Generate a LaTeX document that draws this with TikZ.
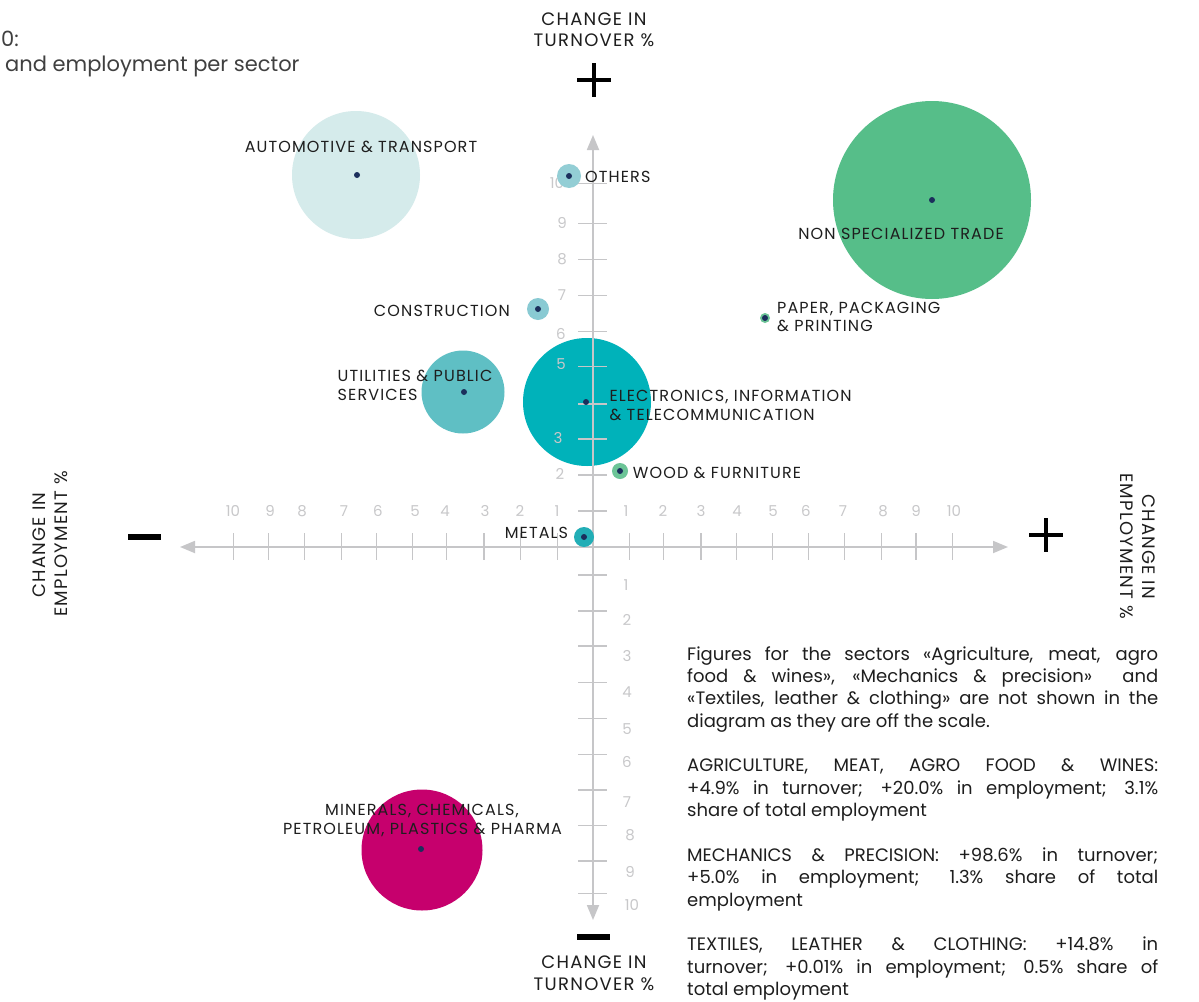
\documentclass[tikz,border=0pt]{standalone}
\usepackage{fontspec}
\setmainfont{Poppins}
\newfontfamily\lblfont[LetterSpace=7]{Poppins}
\usetikzlibrary{arrows.meta}
\definecolor{txt}{HTML}{1E1E1E}
\definecolor{axc}{HTML}{C6C6C8}
\definecolor{tickc}{HTML}{C8C8CA}
\definecolor{dotc}{HTML}{1B2F5C}
\definecolor{cauto}{HTML}{D5EBEB}
\definecolor{cothers}{HTML}{93CED5}
\definecolor{ccons}{HTML}{89CAD3}
\definecolor{cutil}{HTML}{5FBFC4}
\definecolor{celec}{HTML}{00B2BA}
\definecolor{cmetal}{HTML}{22AEB6}
\definecolor{ctrade}{HTML}{56BE89}
\definecolor{cgreen}{HTML}{6CC497}
\definecolor{cmin}{HTML}{C6006D}
\newcommand{\jl}[1]{\makebox[471pt][s]{#1}}
\begin{document}
\begin{tikzpicture}[x=1pt,y=-1pt,
  lbl/.style={font=\lblfont\fontsize{16}{19}\selectfont, text=txt, inner sep=0pt},
  axt/.style={font=\lblfont\fontsize{18}{21}\selectfont, text=txt, inner sep=0pt},
  tk/.style={font=\fontsize{15}{18}\selectfont, text=tickc, inner sep=0pt},
  para/.style={font=\fontsize{18}{22.4}\selectfont, text=txt, inner sep=0pt, anchor=base west},
  bubble/.style={circle, inner sep=0pt, minimum size=#1},
  dotn/.style={circle, fill=dotc, inner sep=0pt, minimum size=6pt},
  axis/.style={draw=axc, line width=1.8pt},
  tick/.style={draw=axc, line width=1.5pt},
  sign/.style={draw=black, line width=4.5pt}]
\useasboundingbox[fill=white] (0,0) rectangle (1199,1001);

% title fragments
\node[font=\fontsize{21}{25}\selectfont, text=txt!85, inner sep=0pt, anchor=base west] (t1) at (1,46.7) {0:};
\node[font=\fontsize{21}{25}\selectfont, text=txt!85, inner sep=0pt, anchor=base west] (t2) at (5,71.7) {and employment per sector};

% bubbles (under axes)
\node[bubble=128pt, fill=cauto] (auto) at (356,175) {};
\node[bubble=198pt, fill=ctrade] (trade) at (932,200) {};
\node[bubble=22pt, fill=ccons] (cons) at (538,309) {};
\node[bubble=10pt, fill=cgreen] (paper) at (765,318) {};
\node[bubble=83pt, fill=cutil] (util) at (463,392) {};
\node[bubble=128pt, fill=celec] (elec) at (587,402) {};
\node[bubble=121pt, fill=cmin] (min) at (422,850) {};

% axes
\coordinate (o) at (593,547);
\coordinate (xl) at (180,547);
\coordinate (xr) at (1008,547);
\coordinate (yt) at (593,135);
\coordinate (yb) at (593,920);
\draw[axis, -{Triangle[length=15pt,width=12pt]}] (o) -- (xl);
\draw[axis, -{Triangle[length=15pt,width=12pt]}] (o) -- (xr);
\draw[axis, -{Triangle[length=15pt,width=12pt]}] (o) -- (yt);
\draw[axis, -{Triangle[length=15pt,width=12pt]}] (o) -- (yb);
\foreach \x in {233.3,268.3,304.3,341.3,376.7,412.7,446.7,484,520.7,557.7,629.3,663.7,701,736.7,772.3,808.3,844.3,881.7,916,952.3}
  \draw[tick] (\x,533) -- (\x,560);
\foreach \y in {183.3,223.7,259.3,295.3,331.3,366.7,404,439,475,511,575,611,646,682.7,718.3,754.3,790,825.7,861,893.3}
  \draw[tick] (578,\y) -- (607,\y);

% tick labels
\foreach \x/\l [count=\i] in {233/10,270/9,302/8,344/7,378/6,415/5,445/4,485/3,520/2,557/1,626/1,663/2,701/3,737/4,773/5,806/6,843/7,883/8,916/9,954/10}
  \node[tk] (hx\i) at (\x,511) {\l};
\foreach \x/\y/\l [count=\i] in {557/183/10,562/223/9,562/259/8,562/295/7,561/334/6,561/364/5,558/438/3,560/474/2}
  \node[tk] (vu\i) at (\x,\y) {\l};
\foreach \x/\y/\l [count=\i] in {626/585/1,627/620/2,627/656/3,627/692/4,627/729/5,627/762/6,627/802/7,630/835/8,630/872/9,632/905/10}
  \node[tk] (vd\i) at (\x,\y) {\l};

% small bubbles over axes
\node[bubble=24pt, fill=cothers] (others) at (569,176) {};
\node[bubble=20pt, fill=cmetal] (metal) at (584,537) {};
\node[bubble=16pt, fill=cgreen] (wood) at (620,471) {};

% dots
\node[dotn] (dauto) at (357,175) {};
\node[dotn] (dothers) at (569,176) {};
\node[dotn] (dtrade) at (932,200) {};
\node[dotn] (dcons) at (538,309) {};
\node[dotn] (dpaper) at (765,318) {};
\node[dotn] (dutil) at (464,392) {};
\node[dotn] (delec) at (586,402) {};
\node[dotn] (dwood) at (620,471) {};
\node[dotn] (dmetal) at (584,537) {};
\node[dotn] (dmin) at (421,849) {};

% sector labels
\node[lbl, anchor=base] (lauto) at (361,152.5) {AUTOMOTIVE \& TRANSPORT};
\node[lbl, anchor=base west] (lothers) at (585,182.7) {OTHERS};
\node[lbl, anchor=base] (ltrade) at (901,239.5) {NON SPECIALIZED TRADE};
\node[lbl, anchor=base east] (lcons) at (510,316) {CONSTRUCTION};
\node[lbl, anchor=base west] (lpaper1) at (777,313.3) {PAPER, PACKAGING};
\node[lbl, anchor=base west] (lpaper2) at (777,331.7) {\& PRINTING};
\node[lbl, anchor=base west] (lutil1) at (337.5,381.7) {UTILITIES \& PUBLIC};
\node[lbl, anchor=base west] (lutil2) at (337.5,400.7) {SERVICES};
\node[lbl, anchor=base west] (lelec1) at (609.3,401) {ELECTRONICS, INFORMATION};
\node[lbl, anchor=base west] (lelec2) at (609.3,420) {\& TELECOMMUNICATION};
\node[lbl, anchor=base west] (lwood) at (632.7,478.3) {WOOD \& FURNITURE};
\node[lbl, anchor=base east] (lmetal) at (568.3,538.3) {METALS};
\node[lbl, anchor=base] (lmin1) at (422,815.7) {MINERALS, CHEMICALS,};
\node[lbl, anchor=base] (lmin2) at (422.5,834) {PETROLEUM, PLASTICS \& PHARMA};

% axis titles
\node[axt, anchor=base] (ttop1) at (594,25) {CHANGE IN};
\node[axt, anchor=base] (ttop2) at (594,46.7) {TURNOVER \%};
\node[axt, anchor=base] (tbot1) at (594,968) {CHANGE IN};
\node[axt, anchor=base] (tbot2) at (594,990) {TURNOVER \%};
\node[axt, anchor=base, rotate=90] (tl1) at (45,545) {CHANGE IN};
\node[axt, anchor=base, rotate=90] (tl2) at (67.7,544) {EMPLOYMENT \%};
\node[axt, anchor=base, rotate=-90] (tr1) at (1142.7,546.7) {CHANGE IN};
\node[axt, anchor=base, rotate=-90] (tr2) at (1120,546) {EMPLOYMENT \%};

% plus / minus signs
\draw[sign] (577,80) -- (611,80);
\draw[sign] (594,63) -- (594,97);
\draw[sign] (1029,535) -- (1063,535);
\draw[sign] (1046,518) -- (1046,552);
\draw[draw=black, line width=6pt] (128,537) -- (161,537);
\draw[draw=black, line width=6pt] (577,936.5) -- (610,936.5);

% note block
\node[para] (p1) at (687,660) {\jl{Figures for the sectors «Agriculture, meat, agro}};
\node[para] (p2) at (687,682.4) {\jl{food \& wines», «Mechanics \& precision» \ and}};
\node[para] (p3) at (687,704.7) {\jl{«Textiles, leather \& clothing» are not shown in the}};
\node[para] (p4) at (687,727.1) {diagram as they are off the scale.};
\node[para] (p5) at (687,771.8) {\jl{AGRICULTURE, MEAT, AGRO FOOD \& WINES:}};
\node[para] (p6) at (687,794.2) {\jl{+4.9\% in turnover; +20.0\% in employment; 3.1\%}};
\node[para] (p7) at (687,816.6) {share of total employment};
\node[para] (p8) at (687,861.3) {\jl{MECHANICS \& PRECISION: +98.6\% in turnover;}};
\node[para] (p9) at (687,883.7) {\jl{+5.0\% in employment; 1.3\% share of total}};
\node[para] (p10) at (687,906.1) {employment};
\node[para] (p11) at (687,950.8) {\jl{TEXTILES, LEATHER \& CLOTHING: +14.8\% in}};
\node[para] (p12) at (687,973.2) {\jl{turnover; +0.01\% in employment; 0.5\% share of}};
\node[para] (p13) at (687,995.6) {total employment};
\end{tikzpicture}
\end{document}
